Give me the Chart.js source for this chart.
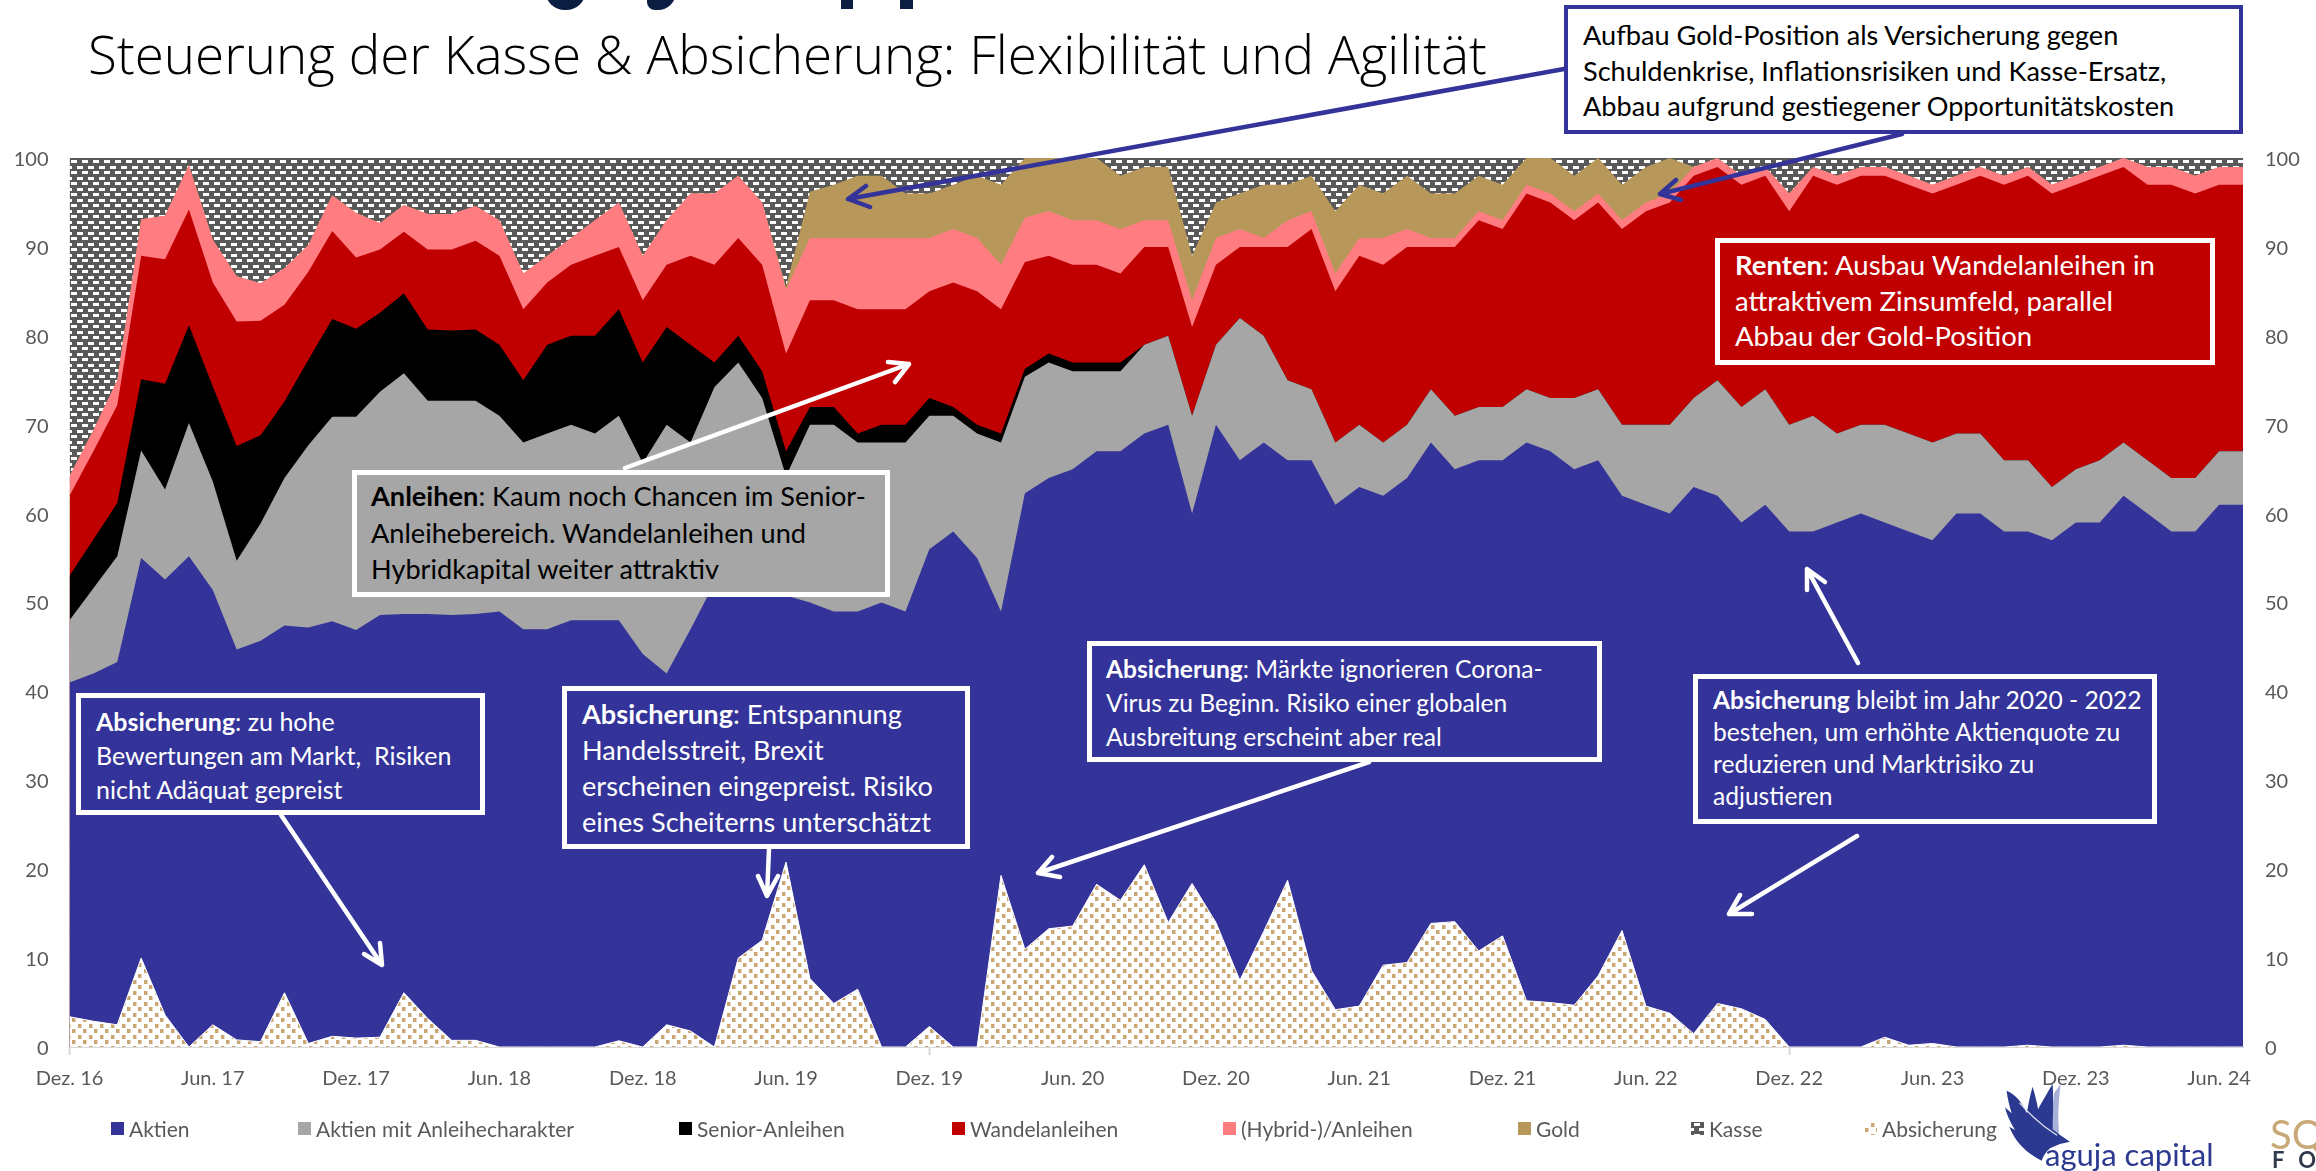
<!DOCTYPE html>
<html lang="de"><head><meta charset="utf-8">
<style>
html,body{margin:0;padding:0;background:#fff;width:2316px;height:1171px;overflow:hidden}
#wrap{position:relative;width:2316px;height:1171px;overflow:hidden}
canvas{position:absolute;left:0;top:0}
.t{position:absolute;box-sizing:border-box;font-family:Lato,sans-serif;white-space:nowrap}
.box{border:5px solid #fff;background:#333399;color:#fff}
#title{left:88px;top:14px;font-family:"Open Sans",sans-serif;font-weight:300;font-size:53px;color:#000;line-height:80px}
svg{position:absolute;left:0;top:0}
</style></head><body><div id="wrap">
<canvas id="c" width="2316" height="1171"></canvas>
<div class="t" id="title">Steuerung der Kasse &amp; Absicherung: Flexibilität und Agilität</div>

<div style="position:absolute;left:545px;top:-22px;width:41px;height:32px;border-radius:0 0 20px 20px;background:#0b1d40"></div>
<div style="position:absolute;left:647px;top:-22px;width:29px;height:32px;border-radius:0 0 18px 8px;background:#0b1d40"></div>
<div style="position:absolute;left:841px;top:0;width:12px;height:9px;background:#0b1d40"></div>
<div style="position:absolute;left:900px;top:0;width:13px;height:9px;background:#0b1d40"></div>

<svg width="2316" height="1171" viewBox="0 0 2316 1171" fill="none" stroke-linecap="round" stroke-linejoin="round">
 <g stroke="#333399" stroke-width="4.5">
  <path d="M1564 69L848 199M866 186L848 199L870 207"/>
  <path d="M1902 134L1660 194M1676 180L1660 194L1681 200"/>
 </g>
 <g stroke="#fff" stroke-width="4.5">
  <path d="M625 468L909 364M888 362L909 364L895 382"/>
  <path d="M281 815L382 965M380 943L382 965L364 954"/>
  <path d="M769 849L767 896M758 876L767 896L778 876"/>
  <path d="M1369 762L1038 873M1052 857L1038 873L1060 877"/>
  <path d="M1857 836L1729 914M1740 895L1729 914L1752 914"/>
  <path d="M1858 663L1807 569M1807 590L1807 569L1825 582"/>
 </g>
 <g transform="translate(1960 1070) scale(.3333)" stroke="none">
  <path fill="#aab1d8" d="M302 42C296 90 292 140 298 198L272 180L282 70Z"/>
  <path fill="#2b3990" d="M140 62C165 72 190 100 200 130C205 105 210 75 218 50C225 75 232 100 234 118C250 90 265 62 278 42C281 100 278 140 278 178L300 195L330 215L300 222L270 235C258 245 250 258 245 272C200 250 165 215 148 170L165 180C150 155 140 135 135 112L155 130C148 105 142 85 140 62Z"/>
  <path stroke="#dfe2f2" stroke-width="4" d="M180 100C215 140 250 170 290 195"/>
 </g>
</svg>
<div class="t" style="left:2045px;top:1134px;font-size:31px;color:#2b3990;line-height:40px">aguja capital</div>
<div class="t" style="left:2270px;top:1112px;font-size:40px;color:#c9a877;line-height:44px">SQ</div>
<div class="t" style="left:2272px;top:1148px;font-size:22px;color:#2f3a4a;line-height:24px;letter-spacing:14px;font-weight:700">FO</div>

<div class="t" style="left:1564px;top:5px;width:679px;height:129px;border:4px solid #333399;background:#fff;color:#000;font-size:27.15px;line-height:35.5px;padding:8px 0 0 15px">Aufbau Gold-Position als Versicherung gegen<br>Schuldenkrise, Inflationsrisiken und Kasse-Ersatz,<br>Abbau aufgrund gestiegener Opportunitätskosten</div>
<div class="t" style="left:352px;top:470px;width:538px;height:127px;border:5px solid #fff;background:#a6a6a6;color:#000;font-size:27.15px;line-height:36.5px;padding:3px 0 0 14px"><b>Anleihen</b>: Kaum noch Chancen im Senior-<br>Anleihebereich. Wandelanleihen und<br>Hybridkapital weiter attraktiv</div>
<div class="t" style="left:1715px;top:238px;width:500px;height:127px;border:5px solid #fff;background:#c00000;color:#fff;font-size:27.5px;line-height:35.5px;padding:4px 0 0 15px"><b>Renten</b>: Ausbau Wandelanleihen in<br>attraktivem Zinsumfeld, parallel<br>Abbau der Gold-Position</div>
<div class="t box" style="left:76px;top:693px;width:409px;height:122px;font-size:25px;line-height:34px;padding:6px 0 0 15px"><b>Absicherung</b>: zu hohe<br>Bewertungen am Markt,&nbsp; Risiken<br>nicht Adäquat gepreist</div>
<div class="t box" style="left:562px;top:686px;width:408px;height:163px;font-size:27.15px;line-height:36px;padding:5px 0 0 15px"><b>Absicherung</b>: Entspannung<br>Handelsstreit, Brexit<br>erscheinen eingepreist. Risiko<br>eines Scheiterns unterschätzt</div>
<div class="t box" style="left:1087px;top:641px;width:515px;height:121px;font-size:24.6px;line-height:34px;padding:6px 0 0 14px"><b>Absicherung</b>: Märkte ignorieren Corona-<br>Virus zu Beginn. Risiko einer globalen<br>Ausbreitung erscheint aber real</div>
<div class="t box" style="left:1693px;top:674px;width:464px;height:150px;font-size:24.6px;line-height:32px;padding:5px 0 0 15px"><b>Absicherung</b> bleibt im Jahr 2020 - 2022<br>bestehen, um erhöhte Aktienquote zu<br>reduzieren und Marktrisiko zu<br>adjustieren</div>
</div>
<script src="https://cdn.jsdelivr.net/npm/chart.js@4/dist/chart.umd.js"></script>
<script>
const months = ['Dez. 16','Jan. 17','Feb. 17','Mrz. 17','Apr. 17','Mai. 17','Jun. 17','Jul. 17','Aug. 17','Sep. 17','Okt. 17','Nov. 17',
'Dez. 17','Jan. 18','Feb. 18','Mrz. 18','Apr. 18','Mai. 18','Jun. 18','Jul. 18','Aug. 18','Sep. 18','Okt. 18','Nov. 18',
'Dez. 18','Jan. 19','Feb. 19','Mrz. 19','Apr. 19','Mai. 19','Jun. 19','Jul. 19','Aug. 19','Sep. 19','Okt. 19','Nov. 19',
'Dez. 19','Jan. 20','Feb. 20','Mrz. 20','Apr. 20','Mai. 20','Jun. 20','Jul. 20','Aug. 20','Sep. 20','Okt. 20','Nov. 20',
'Dez. 20','Jan. 21','Feb. 21','Mrz. 21','Apr. 21','Mai. 21','Jun. 21','Jul. 21','Aug. 21','Sep. 21','Okt. 21','Nov. 21',
'Dez. 21','Jan. 22','Feb. 22','Mrz. 22','Apr. 22','Mai. 22','Jun. 22','Jul. 22','Aug. 22','Sep. 22','Okt. 22','Nov. 22',
'Dez. 22','Jan. 23','Feb. 23','Mrz. 23','Apr. 23','Mai. 23','Jun. 23','Jul. 23','Aug. 23','Sep. 23','Okt. 23','Nov. 23',
'Dez. 23','Jan. 24','Feb. 24','Mrz. 24','Apr. 24','Mai. 24','Jun. 24','Jul. 24'];
const aktien = [41,42,43.3,55,52.6,55.2,51.4,44.7,45.7,47.4,47.2,47.9,46.9,48.6,48.7,48.7,48.6,48.7,49,47,47,48,48,48,44.2,42,47,52.2,53.8,56.8,50.8,50,49,49,50,49,56,58,55,49,62.3,64,65,67,67,69,70,60,70,66,68,66,66,61,63,62,64,68,65,66,66,68,67,65,66,62,61,60,63,62,59,61,58,58,59,60,59,58,57,60,60,58,58,57,59,59,62,60,58,58,61,61];
const aktienAnleihe = [7,9.6,11.9,12.1,10.1,15,12.2,10,13.2,16.6,20.5,23,24,25.1,27.1,24,24.1,24,22,21,22,22,21,23,21.5,28,21,22,23.2,16.2,13.4,20,21,19,18,19,15,13,14,19,13.1,13,11,9,9,10,10,11,9,16,12,9,8,7,7,6,6,6,6,6,6,6,6,8,8,8,9,10,10,13,13,13,12,13,10,10,11,11,11,9,9,8,8,6,6,7,6,6,6,6,6,6];
const senior = [5,5.5,6,8,11.9,11,10.7,12.9,9.9,8.6,9.6,11,9.9,8.9,9,8,7.9,8,8,7,10,10,11,12,11.3,11,11,2.8,3,3,2.8,2,2,1,2,2,2,1,1,1,0.9,1,1,1,1,0,0,0,0,0,0,0,0,0,0,0,0,0,0,0,0,0,0,0,0,0,0,0,0,0,0,0,0,0,0,0,0,0,0,0,0,0,0,0,0,0,0,0,0,0,0,0];
const wandel = [9,9.9,11,13.9,14,13,11.7,14,12.9,10.9,9.9,9.9,8,7.1,6.9,9,9.1,10,10,8,7,8,9,7,7,7,10,11,11,12,11,12,12,14,13,13,12,14,15,14,12,11,11,11,10,11,10,10,9,8,10,15,18,17,19,20,20,16,19,21,20,22,22,20,21,22,24,25,25,24,25,24,24,27,28,28,28,28,28,28,29,31,32,33,32,32,31,31,33,32,30,30];
const hybrid = [2.2,2.4,2.8,4.1,4.9,5,4.8,5.1,4.2,4.1,3,4,5,3,3,4,4,3.9,4,4,3,3,4,5,5,5,7,8,7,7,7.2,7,7,8,8,8,6,6,6,5,5,5,5,5,5,3,3,3,3,2,1,3,2,2,2,3,2,1,1,1,1,1,1,1,1,1,1,1,1,1,1,1,2,1,1,1,1,1,1,1,1,1,1,1,1,1,1,2,2,2,2,2];
const gold = [0,0,0,0,0,0,0,0,0,0,0,0,0,0,0,0,0,0,0,0,0,0,0,0,0,0,0,0,0,0,0.3,5.2,6,7,7,5,5,5,7,9,6.7,6,7,7,6,6,6,5,4,4,6,4,4,7,6,5,6,5,5,4,4,3,4,4,4,4,4,4,0,0,0,0,0,0,0,0,0,0,0,0,0,0,0,0,0,0,0,0,0,0,0,0];
const kasse = [35.8,30.6,25,6.9,6.5,0.8,9.2,13.3,14.1,12.4,9.8,4.2,6.2,7.3,5.3,6.3,6.3,5.4,7,13,11,9,7,5,11,7,4,4,2,5,14.5,3.8,3,2,2,4,4,3,2,3,0,0,0,0,2,1,1,11,5,4,3,3,2,6,3,4,2,4,4,2,3,0,0,2,0,3,1,0,1,0,2,1,4,1,2,1,1,2,3,2,1,2,1,3,2,1,0,1,1,2,1,1];
const absicherung = [3.4,2.9,2.5,10,3.6,0,2.5,0.8,0.6,6.1,0.4,1.2,1,1.1,6.1,3.2,0.75,0.75,0,0,0,0,0,0.7,0,2.5,1.8,0,10,12,20.8,7.7,4.9,6.5,0,0,2.3,0,0,19.3,11,13.3,13.6,18.3,16.5,20.5,14,18.4,14,7.5,13,18.75,8.6,4.2,4.6,9.2,9.5,13.9,14.1,10.8,12.5,5.2,5,4.7,8,13.1,4.6,3.8,1.5,4.9,4.3,3.1,0,0,0,0,1.1,0.2,0.4,0,0,0,0.2,0,0,0,0.2,0,0,0,0,0];
const seriesNames = ['Aktien','Aktien mit Anleihecharakter','Senior-Anleihen','Wandelanleihen','(Hybrid-)/Anleihen','Gold','Kasse','Absicherung'];
const legendX = [111,298,679,952,1223,1518,1691,1864];

function pat(size,bg,draw){const c=document.createElement('canvas');c.width=c.height=size;const g=c.getContext('2d');g.fillStyle=bg;g.fillRect(0,0,size,size);draw(g);return g.createPattern(c,'repeat');}
const kassePat = pat(11,'#595959',g=>{g.fillStyle='#fff';g.fillRect(0,1,6,3);g.fillRect(5,6,6,3);});
const absPat = pat(11,'#fff',g=>{g.fillStyle='#c9a672';g.fillRect(1,1,3,4);g.fillRect(6,6,3,4);g.fillStyle='#e6d5bb';g.fillRect(4,1,1,4);g.fillRect(9,6,1,4);});
const colors = ['#333399','#a6a6a6','#000000','#c00000','#ff7c80','#b8985a',kassePat,absPat];
const values = [aktien,aktienAnleihe,senior,wandel,hybrid,gold,kasse];
const datasets = values.map((v,i)=>({label:seriesNames[i],data:v,yAxisID:'y',backgroundColor:colors[i],borderWidth:0,pointRadius:0,tension:0,fill:'origin',order:i+1}));
datasets.push({label:seriesNames[7],data:absicherung,yAxisID:'y1',backgroundColor:colors[7],borderColor:'#fff',borderWidth:1,pointRadius:0,tension:0,fill:'origin',order:0});

const legendRow = {id:'legendRow',afterDraw(ch){const g=ch.ctx;g.save();g.font='21px Lato';g.textBaseline='middle';
 ch.data.datasets.forEach((d,i)=>{const x=legendX[i];g.fillStyle=d.backgroundColor;g.fillRect(x,1122,13,13);g.fillStyle='#595959';g.fillText(d.label,x+18,1130);});g.restore();}};

new Chart(document.getElementById('c'),{type:'line',plugins:[legendRow],
 data:{labels:months,datasets},
 options:{responsive:false,animation:false,events:[],layout:{padding:{top:158,bottom:0,left:0,right:0}},
  plugins:{legend:{display:false},tooltip:{enabled:false},filler:{propagate:false}},
  scales:{
   x:{type:'category',offset:false,afterFit(s){s.height=124;},
      border:{display:true,color:'#d9d9d9',width:2},
      grid:{display:true,drawOnChartArea:false,drawTicks:true,tickLength:8,tickWidth:2,tickColor:c=>c.index%6===0?'#d9d9d9':'rgba(0,0,0,0)',color:'rgba(0,0,0,0)'},
      ticks:{autoSkip:false,maxRotation:0,minRotation:0,padding:12,color:'#595959',font:{family:'Lato',size:20},callback(v,i){return i%6===0?months[i]:null;}}},
   y:{position:'left',stacked:true,min:0,max:100,afterFit(s){s.width=69.5;},border:{display:false},grid:{display:false,drawTicks:false},
      ticks:{stepSize:10,padding:21,labelOffset:1.5,color:'#595959',font:{family:'Lato',size:20}}},
   y1:{position:'right',stacked:false,min:0,max:100,afterFit(s){s.width=73;},border:{display:false},grid:{display:false,drawTicks:false},
      ticks:{stepSize:10,padding:22,labelOffset:1.5,color:'#595959',font:{family:'Lato',size:20}}}
  }}});
</script></body></html>
